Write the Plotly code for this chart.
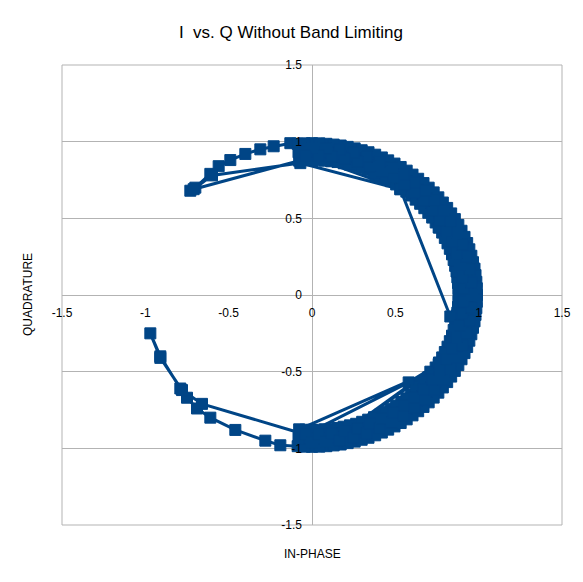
import plotly.graph_objects as go

# in-phase / quadrature samples, in the order they are joined
in_phase = [
    # upper-left arc
    -0.73, -0.70, -0.61, -0.56, -0.49, -0.40, -0.31, -0.23, -0.13,
    # first sweep, clockwise
    -0.086, -0.039, 0.000, 0.039, 0.086, 0.115, 0.172, 0.190, 0.256, 0.265,
    0.339, 0.337, 0.419, 0.407, 0.495, 0.473, 0.568, 0.536, 0.637, 0.595,
    0.700, 0.649, 0.758, 0.698, 0.811, 0.742, 0.857, 0.781, 0.897, 0.813,
    0.931, 0.840, 0.956, 0.859, 0.975, 0.872, 0.986, 0.879, 0.990, 0.879,
    0.986, 0.872, 0.975, 0.859, 0.956, 0.840, 0.931, 0.813, 0.897, 0.781,
    0.857, 0.742, 0.811, 0.698, 0.758, 0.649, 0.700, 0.595, 0.637, 0.536,
    0.568, 0.473, 0.495, 0.407, 0.419, 0.337, 0.339, 0.265, 0.256, 0.190,
    0.172, 0.115, 0.086, 0.039, 0.000, -0.039, -0.086,
    # lower-left arc
    -0.19, -0.28, -0.46, -0.61, -0.69, -0.75, -0.79, -0.91, -0.97,
    -0.91, -0.78, -0.66, -0.04, 0.58, 0.76, 0.20, 0.71,
    # second sweep, counter-clockwise
    -0.077, -0.044, 0.000, 0.044, 0.077, 0.130, 0.153, 0.214, 0.228, 0.298,
    0.301, 0.379, 0.372, 0.457, 0.440, 0.532, 0.505, 0.603, 0.566, 0.669,
    0.622, 0.730, 0.674, 0.785, 0.721, 0.835, 0.762, 0.878, 0.797, 0.915,
    0.827, 0.944, 0.850, 0.966, 0.867, 0.981, 0.876, 0.989, 0.880, 0.989,
    0.876, 0.981, 0.867, 0.966, 0.850, 0.944, 0.827, 0.915, 0.797, 0.878,
    0.762, 0.835, 0.721, 0.785, 0.674, 0.730, 0.622, 0.669, 0.566, 0.603,
    0.505, 0.532, 0.440, 0.457, 0.372, 0.379, 0.301, 0.298, 0.228, 0.214,
    0.153, 0.130, 0.077, 0.044, 0.000, -0.044, -0.077,
    # jumps back across the top
    -0.71, -0.60, -0.07, 0.53, 0.83, 0.90, 0.76, 0.53,
    # third sweep, clockwise through the middle of the band
    -0.081, -0.041, 0.000, 0.041, 0.081, 0.122, 0.163, 0.202, 0.242, 0.281,
    0.320, 0.358, 0.396, 0.432, 0.468, 0.502, 0.537, 0.569, 0.601, 0.632,
    0.661, 0.689, 0.716, 0.741, 0.766, 0.788, 0.810, 0.829, 0.847, 0.864,
    0.879, 0.892, 0.903, 0.913, 0.921, 0.927, 0.931, 0.934, 0.935, 0.934,
    0.931, 0.927, 0.921, 0.913, 0.903, 0.892, 0.879, 0.864, 0.847, 0.829,
    0.810, 0.788, 0.766, 0.741, 0.716, 0.689, 0.661, 0.632, 0.601, 0.569,
    0.537, 0.502, 0.468, 0.432, 0.396, 0.358, 0.320, 0.281, 0.242, 0.202,
    0.163, 0.122, 0.081, 0.041, 0.000, -0.041, -0.081,
    # fourth sweep, counter-clockwise
    -0.040, 0.000, 0.040, 0.084, 0.119, 0.167, 0.197, 0.249, 0.274, 0.328,
    0.349, 0.406, 0.420, 0.480, 0.489, 0.551, 0.554, 0.617, 0.615, 0.679,
    0.671, 0.735, 0.722, 0.786, 0.767, 0.831, 0.807, 0.870, 0.841, 0.902,
    0.868, 0.927, 0.888, 0.946, 0.902, 0.956, 0.909, 0.960, 0.909, 0.956,
    0.902, 0.946, 0.888, 0.927, 0.868, 0.902, 0.841, 0.870, 0.807, 0.831,
    0.767, 0.786, 0.722, 0.735, 0.671, 0.679, 0.615, 0.617, 0.554, 0.551,
    0.489, 0.480, 0.420, 0.406, 0.349, 0.328, 0.274, 0.249, 0.197, 0.167,
    0.119, 0.084, 0.040, 0.000, -0.040,
]
quadrature = [
    0.68, 0.70, 0.79, 0.84, 0.88, 0.92, 0.95, 0.97, 0.99,
    0.986, 0.879, 0.990, 0.879, 0.986, 0.872, 0.975, 0.859, 0.956, 0.840,
    0.931, 0.813, 0.897, 0.781, 0.857, 0.742, 0.811, 0.698, 0.758, 0.649,
    0.700, 0.595, 0.637, 0.536, 0.568, 0.473, 0.495, 0.407, 0.419, 0.337,
    0.339, 0.265, 0.256, 0.190, 0.172, 0.115, 0.086, 0.039, 0.000, -0.039,
    -0.086, -0.115, -0.172, -0.190, -0.256, -0.265, -0.339, -0.337, -0.419, -0.407,
    -0.495, -0.473, -0.568, -0.536, -0.637, -0.595, -0.700, -0.649, -0.758, -0.698,
    -0.811, -0.742, -0.857, -0.781, -0.897, -0.813, -0.931, -0.840, -0.956, -0.859,
    -0.975, -0.872, -0.986, -0.879, -0.990, -0.879, -0.986,
    -0.98, -0.95, -0.88, -0.80, -0.74, -0.67, -0.61, -0.40, -0.25,
    -0.41, -0.62, -0.71, -0.91, -0.57, -0.45, -0.89, -0.50,
    -0.876, -0.989, -0.880, -0.989, -0.876, -0.981, -0.867, -0.966, -0.850, -0.944,
    -0.827, -0.915, -0.797, -0.878, -0.762, -0.835, -0.721, -0.785, -0.674, -0.730,
    -0.622, -0.669, -0.566, -0.603, -0.505, -0.532, -0.440, -0.457, -0.372, -0.379,
    -0.301, -0.298, -0.228, -0.214, -0.153, -0.130, -0.077, -0.044, 0.000, 0.044,
    0.077, 0.130, 0.153, 0.214, 0.228, 0.298, 0.301, 0.379, 0.372, 0.457,
    0.440, 0.532, 0.505, 0.603, 0.566, 0.669, 0.622, 0.730, 0.674, 0.785,
    0.721, 0.835, 0.762, 0.878, 0.797, 0.915, 0.827, 0.944, 0.850, 0.966,
    0.867, 0.981, 0.876, 0.989, 0.880, 0.989, 0.876,
    0.69, 0.78, 0.86, 0.69, -0.14, 0.05, 0.44, 0.69,
    0.931, 0.934, 0.935, 0.934, 0.931, 0.927, 0.921, 0.913, 0.903, 0.892,
    0.879, 0.864, 0.847, 0.829, 0.810, 0.788, 0.766, 0.741, 0.716, 0.689,
    0.661, 0.632, 0.601, 0.569, 0.537, 0.502, 0.468, 0.432, 0.396, 0.358,
    0.320, 0.281, 0.242, 0.202, 0.163, 0.122, 0.081, 0.041, 0.000, -0.041,
    -0.081, -0.122, -0.163, -0.202, -0.242, -0.281, -0.320, -0.358, -0.396, -0.432,
    -0.468, -0.502, -0.537, -0.569, -0.601, -0.632, -0.661, -0.689, -0.716, -0.741,
    -0.766, -0.788, -0.810, -0.829, -0.847, -0.864, -0.879, -0.892, -0.903, -0.913,
    -0.921, -0.927, -0.931, -0.934, -0.935, -0.934, -0.931,
    -0.909, -0.960, -0.909, -0.956, -0.902, -0.946, -0.888, -0.927, -0.868, -0.902,
    -0.841, -0.870, -0.807, -0.831, -0.767, -0.786, -0.722, -0.735, -0.671, -0.679,
    -0.615, -0.617, -0.554, -0.551, -0.489, -0.480, -0.420, -0.406, -0.349, -0.328,
    -0.274, -0.249, -0.197, -0.167, -0.119, -0.084, -0.040, 0.000, 0.040, 0.084,
    0.119, 0.167, 0.197, 0.249, 0.274, 0.328, 0.349, 0.406, 0.420, 0.480,
    0.489, 0.551, 0.554, 0.617, 0.615, 0.679, 0.671, 0.735, 0.722, 0.786,
    0.767, 0.831, 0.807, 0.870, 0.841, 0.902, 0.868, 0.927, 0.888, 0.946,
    0.902, 0.956, 0.909, 0.960, 0.909,
]

tick_vals = [-1.5, -1, -0.5, 0, 0.5, 1, 1.5]
tick_text = ['-1.5', '-1', '-0.5', '0', '0.5', '1', '1.5']

blue = '#004586'
grey = '#b3b3b3'
font = 'Liberation Sans, Arial, sans-serif'

fig = go.Figure()

fig.add_trace(go.Scatter(
    x=in_phase, y=quadrature,
    mode='lines+markers',
    line=dict(color=blue, width=3),
    marker=dict(symbol='square', size=11, color=blue,
                line=dict(width=1, color=blue)),
    showlegend=False,
))

# the page body adds 8px, so the figure is a little smaller than the window
fig.update_layout(
    width=575, height=574,
    margin=dict(l=54, r=21, t=57, b=57),
    plot_bgcolor='white', paper_bgcolor='white',
    font=dict(family=font, size=12, color='#000000'),
    title=dict(text='I  vs. Q Without Band Limiting', x=0.492, xanchor='center',
               y=0.958, yanchor='middle', font=dict(size=17)),
    xaxis=dict(
        range=[-1.5, 1.5], tickvals=tick_vals, ticktext=tick_text,
        showgrid=False, zeroline=True, zerolinecolor=grey, zerolinewidth=1,
        anchor='free', position=0.5, ticks='', showline=False,
        automargin=False, ticklabelstandoff=9,
    ),
    yaxis=dict(
        range=[-1.5, 1.5], tickvals=tick_vals, ticktext=tick_text,
        showgrid=True, gridcolor=grey, gridwidth=1,
        zeroline=True, zerolinecolor=grey, zerolinewidth=1,
        anchor='free', position=0.5, ticks='', showline=False,
        automargin=False, ticklabelstandoff=10,
    ),
    shapes=[dict(type='rect', xref='paper', yref='paper', x0=0, y0=0, x1=1, y1=1,
                 line=dict(color=grey, width=1), layer='below')],
    annotations=[
        dict(text='IN-PHASE', xref='paper', yref='paper', x=0.5, y=-0.063,
             xanchor='center', yanchor='middle', showarrow=False, font=dict(size=12)),
        dict(text='QUADRATURE', xref='paper', yref='paper', x=-0.068, y=0.5,
             xanchor='center', yanchor='middle', textangle=-90, showarrow=False,
             font=dict(size=12)),
    ],
)

fig.write_html('out.html')
